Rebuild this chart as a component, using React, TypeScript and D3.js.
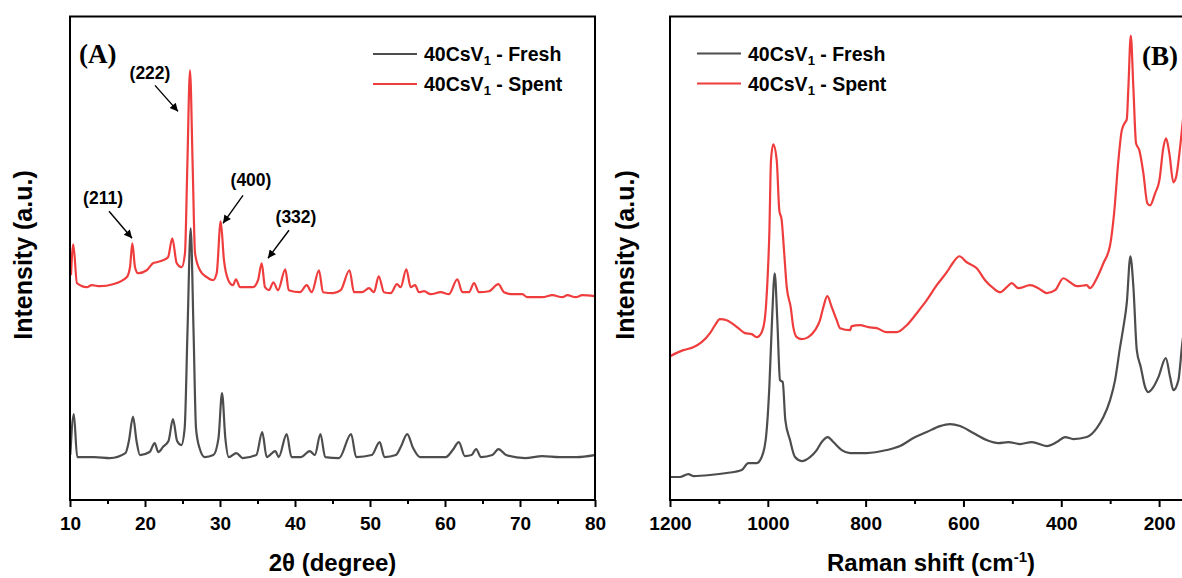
import React, { useEffect, useRef } from "react";
import * as d3 from "d3";

// XRD patterns: [2θ (degree), intensity (a.u.)]
const xrdFresh: [number, number][] = [
  [10.04, 45], [10.51, 86], [10.96, 43], [13.25, 43], [15.33, 42], [17.39, 47], [17.85, 59],
  [18.4, 83.5], [18.87, 59], [19.33, 45], [20.61, 48], [21.29, 57], [21.76, 48], [22.44, 53.5],
  [23.13, 59], [23.73, 81], [24.28, 59], [24.84, 55], [25.29, 72], [25.67, 170], [26.09, 272],
  [26.47, 170], [26.8, 72], [27.27, 52], [27.96, 43], [29.11, 45], [29.8, 62], [30.27, 107],
  [30.71, 62], [31.17, 43], [32.19, 47], [33.01, 42], [34.84, 45], [35.63, 68], [36.23, 43],
  [37.37, 49], [37.83, 43], [38.89, 66], [39.53, 43], [40.81, 43], [41.96, 49], [42.65, 45],
  [43.39, 66], [44.03, 43], [45.87, 42], [47.48, 66], [48.16, 43], [50.23, 45], [51.29, 58],
  [51.93, 43], [53.45, 45], [54.13, 53.5], [54.96, 66], [55.75, 52], [56.67, 43], [60.11, 43],
  [61.03, 50], [61.85, 58], [62.64, 44], [63.55, 45], [64.15, 51], [64.8, 43], [66.31, 45],
  [67.13, 51], [68.15, 45], [70.67, 42], [72.97, 44], [75.27, 43], [77.56, 43], [79.95, 45],
];

const xrdSpent: [number, number][] = [
  [10.13, 225], [10.44, 256], [10.93, 217], [12.23, 213], [12.89, 215], [14.0, 214], [15.73, 216],
  [17.56, 223], [18.0, 233], [18.31, 257], [18.67, 233], [19.07, 227], [20.23, 230], [21.07, 237],
  [21.56, 238], [22.4, 240], [23.07, 243], [23.64, 262], [24.23, 237], [24.89, 233], [25.33, 247],
  [25.64, 333], [26.0, 430], [26.36, 333], [26.67, 247], [27.33, 230], [28.23, 223], [29.07, 220],
  [29.56, 227], [30.09, 279], [30.53, 240], [31.11, 220], [31.73, 215], [32.13, 221], [32.67, 213],
  [33.56, 213], [34.4, 213], [35.07, 220], [35.56, 237], [36.0, 213], [36.53, 210], [37.11, 218],
  [37.73, 210], [38.71, 231], [39.16, 210], [40.67, 208], [41.56, 215], [42.23, 208], [43.2, 230],
  [43.73, 208], [45.07, 207], [46.09, 210], [47.27, 230], [47.87, 208], [48.93, 208], [49.87, 212],
  [50.53, 208], [51.16, 224], [51.87, 208], [52.76, 207], [53.6, 216], [54.09, 213], [54.84, 231],
  [55.43, 213], [56.0, 215], [56.53, 208], [57.2, 209], [58.09, 206], [59.43, 208], [60.53, 206],
  [61.64, 221], [62.31, 208], [63.2, 208], [63.87, 217], [64.53, 208], [65.87, 209], [67.11, 216],
  [67.87, 208], [68.97, 206], [70.31, 206], [70.97, 203], [72.97, 203], [74.31, 205], [75.64, 203],
  [76.31, 205], [77.43, 203], [78.31, 205], [79.93, 204],
];

// Raman spectra: [Raman shift (cm-1), intensity (a.u.)]
const ramanFresh: [number, number][] = [
  [1200, 23], [1179.6, 23], [1162.6, 26], [1152.4, 24], [1118.2, 25], [1084, 27], [1053.4, 30],
  [1039.9, 37], [1022.7, 37], [1012.5, 43], [1003.7, 63], [996.9, 113], [991.4, 180], [985.9, 227],
  [980.6, 180], [975.1, 120], [969.5, 118], [964.2, 80], [954.6, 60], [944.4, 43], [930.7, 39],
  [913.7, 43], [900, 50], [889.8, 58], [877.5, 63], [866, 58], [848.9, 50], [831.9, 47],
  [797.8, 47], [756.9, 50], [729.7, 54], [702.5, 62], [675, 68], [647.9, 74], [627.4, 76],
  [606.9, 74], [579.8, 67], [552.4, 60], [528.6, 57], [508.2, 58], [484.3, 56], [460.3, 58],
  [429.7, 54], [409.2, 58], [392.2, 63], [375.3, 61], [347.9, 63], [327.4, 72], [313.9, 83],
  [300.2, 100], [290, 120], [279.8, 153], [273, 173], [266.1, 197], [258.7, 244], [252.5, 213],
  [245.6, 150], [237.4, 133], [228.6, 113], [221.9, 108], [211.7, 113], [201.4, 123], [186.3, 142],
  [177.5, 123], [170.8, 110], [160.5, 120], [153, 155], [140.7, 200],
];

const ramanSpent: [number, number][] = [
  [1200, 144], [1172.8, 150], [1152.4, 153], [1135.2, 158], [1118.2, 167], [1108, 175],
  [1097.8, 181], [1084, 180], [1073.8, 177], [1060.3, 172], [1046.6, 167], [1032.9, 166],
  [1022.7, 163], [1012.5, 168], [1005.7, 183], [1001, 217], [996.9, 267], [993.5, 340],
  [988.8, 356], [981.8, 340], [976.5, 290], [971.6, 280], [966.9, 250], [961.3, 213], [953.2, 193],
  [947.9, 173], [940.9, 163], [930.7, 161], [917.2, 163], [903.5, 170], [893.3, 180], [886.5, 193],
  [878.3, 204], [869.3, 193], [859.1, 180], [852.4, 172], [831.9, 170], [828.4, 174], [811.5, 175],
  [794.5, 173], [777.3, 172], [756.9, 168], [736.4, 168], [715.9, 175], [695.5, 187], [675, 200],
  [654.6, 215], [634.1, 228], [620.6, 238], [608.4, 244], [593.3, 238], [572.8, 232], [555.8, 220],
  [538.9, 212], [525.2, 208], [511.5, 213], [501.2, 217], [487.7, 212], [463.8, 215], [446.8, 212],
  [429.7, 207], [412.7, 210], [395.7, 222], [382, 218], [368.3, 214], [347.9, 215], [341.1, 212],
  [327.4, 222], [313.9, 237], [300.2, 255], [292, 287], [283.2, 340], [276.3, 370], [269.5, 378],
  [266.1, 381], [262.8, 413], [257.9, 465], [252.6, 413], [247.1, 357], [240.3, 350], [232.1, 327],
  [224, 297], [218.4, 295], [208.2, 307], [199.4, 320], [191.2, 353], [185.7, 362], [179, 347],
  [170.8, 318], [165.3, 323], [157.1, 353], [149, 390], [136.6, 420],
];

const xrdMajor = [10, 20, 30, 40, 50, 60, 70, 80];
const xrdMinor = [15, 25, 35, 45, 55, 65, 75];
const ramanMajor = [1200, 1000, 800, 600, 400, 200];
const ramanMinor = [1100, 900, 700, 500, 300, 100];

// Miller indices pointed at on the spent XRD pattern: label, arrow-tip 2θ, arrow-tip intensity
const hklLabels = ["(211)", "(222)", "(400)", "(332)"];
const hklTheta = [18.27, 24.4, 30.4, 36.4];
const hklTip = [262, 389, 277, 242];

const FONT = "'Liberation Sans', Arial, sans-serif";
const SERIF = "'Liberation Serif', 'Times New Roman', serif";
const RED = "#ef3d3d";
const GREY = "#4d4d4d";

const W = 1182;
const H = 578;

export default function App() {
  const ref = useRef<SVGSVGElement>(null);

  useEffect(() => {
    const svg = d3.select(ref.current);
    svg.selectAll("*").remove();

    const defs = svg.append("defs");
    defs
      .append("marker")
      .attr("id", "arrowhead")
      .attr("viewBox", "0 0 10 10")
      .attr("refX", 10)
      .attr("refY", 5)
      .attr("markerWidth", 11)
      .attr("markerHeight", 8)
      .attr("markerUnits", "userSpaceOnUse")
      .attr("orient", "auto")
      .append("path")
      .attr("d", "M0,0L10,5L0,10Z")
      .attr("fill", "#000");

    const top = 16.5;
    const bottom = 500;

    const panel = (
      id: string,
      x: d3.ScaleLinear<number, number>,
      y: d3.ScaleLinear<number, number>,
      major: number[],
      minor: number[],
      series: { data: [number, number][]; color: string }[]
    ) => {
      const [x0, x1] = x.range();
      const g = svg.append("g");

      defs
        .append("clipPath")
        .attr("id", id)
        .append("rect")
        .attr("x", x0)
        .attr("y", top)
        .attr("width", x1 - x0)
        .attr("height", bottom - top);

      const line = d3
        .line<[number, number]>()
        .x((d) => x(d[0]))
        .y((d) => y(d[1]))
        .curve(d3.curveMonotoneX);

      series.forEach((s) => {
        g.append("path")
          .attr("clip-path", `url(#${id})`)
          .attr("fill", "none")
          .attr("stroke", s.color)
          .attr("stroke-width", 2.2)
          .attr("stroke-linejoin", "round")
          .attr("d", line(s.data));
      });

      g.append("rect")
        .attr("x", x0)
        .attr("y", top)
        .attr("width", x1 - x0)
        .attr("height", bottom - top)
        .attr("fill", "none")
        .attr("stroke", "#000")
        .attr("stroke-width", 2);

      const gx = g
        .append("g")
        .attr("transform", `translate(0,${bottom})`)
        .call(
          d3
            .axisBottom(x)
            .tickValues(major)
            .tickSize(7)
            .tickPadding(10)
            .tickFormat(d3.format("d"))
        );
      gx.select(".domain").remove();
      gx.attr("font-family", FONT).attr("font-size", 19).attr("font-weight", "bold");
      gx.selectAll("line").attr("stroke-width", 2);

      const gm = g
        .append("g")
        .attr("transform", `translate(0,${bottom})`)
        .call(d3.axisBottom(x).tickValues(minor).tickSize(4).tickFormat(() => ""));
      gm.select(".domain").remove();
      gm.selectAll("line").attr("stroke-width", 2);
      return g;
    };

    // (A) XRD
    const xA = d3.scaleLinear().domain([10, 80]).range([70, 595]);
    const yA = d3.scaleLinear().domain([0, 484]).range([bottom, top]);
    const gA = panel("clipA", xA, yA, xrdMajor, xrdMinor, [
      { data: xrdFresh, color: GREY },
      { data: xrdSpent, color: RED },
    ]);

    // (B) Raman, reversed axis running past the right edge of the picture
    const xB = d3.scaleLinear().domain([1200, 100]).range([670, 1208]);
    const yB = d3.scaleLinear().domain([0, 484]).range([bottom, top]);
    const gB = panel("clipB", xB, yB, ramanMajor, ramanMinor, [
      { data: ramanFresh, color: GREY },
      { data: ramanSpent, color: RED },
    ]);

    // peak annotations
    const textOffsets = [
      [-29, -40],
      [-28, -39],
      [28, -43],
      [28, -41],
    ];
    const tailOffsets = [
      [-23, -27],
      [-23, -26],
      [20, -28],
      [21, -28],
    ];
    hklLabels.forEach((lab, i) => {
      const tx = xA(hklTheta[i]);
      const ty = yA(hklTip[i]);
      gA.append("line")
        .attr("x1", tx + tailOffsets[i][0])
        .attr("y1", ty + tailOffsets[i][1])
        .attr("x2", tx)
        .attr("y2", ty)
        .attr("stroke", "#000")
        .attr("stroke-width", 1.4)
        .attr("marker-end", "url(#arrowhead)");
      gA.append("text")
        .attr("x", tx + textOffsets[i][0])
        .attr("y", ty + textOffsets[i][1])
        .attr("dy", "0.35em")
        .attr("text-anchor", "middle")
        .attr("font-family", FONT)
        .attr("font-weight", "bold")
        .attr("font-size", 17.5)
        .text(lab);
    });

    const legend = (g: any, lx: number, ly: number) => {
      const rows = [
        { name: "Fresh", color: GREY },
        { name: "Spent", color: RED },
      ];
      rows.forEach((r, i) => {
        const yy = ly + i * 30;
        g.append("line")
          .attr("x1", lx)
          .attr("x2", lx + 44)
          .attr("y1", yy)
          .attr("y2", yy)
          .attr("stroke", r.color)
          .attr("stroke-width", 2);
        const t = g
          .append("text")
          .attr("x", lx + 51)
          .attr("y", yy + 7)
          .attr("font-family", FONT)
          .attr("font-weight", "bold")
          .attr("font-size", 19.5)
          .style("white-space", "pre");
        t.append("tspan").text("40CsV");
        t.append("tspan").attr("font-size", 13).attr("dy", 4).text("1");
        t.append("tspan").attr("dy", -4).text(" - " + r.name);
      });
    };
    legend(gA, 373, 54);
    legend(gB, 697, 53.5);

    svg.append("text")
      .attr("x", 79)
      .attr("y", 63)
      .attr("font-family", SERIF)
      .attr("font-weight", "bold")
      .attr("font-size", 27)
      .text("(A)");
    svg.append("text")
      .attr("x", 1142)
      .attr("y", 65)
      .attr("font-family", SERIF)
      .attr("font-weight", "bold")
      .attr("font-size", 27)
      .text("(B)");

    // axis titles
    const title = (x: number, y: number, rotate: boolean, size: number) =>
      svg
        .append("text")
        .attr("transform", rotate ? `translate(${x},${y}) rotate(-90)` : `translate(${x},${y})`)
        .attr("text-anchor", "middle")
        .attr("font-family", FONT)
        .attr("font-weight", "bold")
        .attr("font-size", size);

    title(32, 255, true, 25).text("Intensity (a.u.)");
    title(634, 255, true, 25).text("Intensity (a.u.)");
    title(332.5, 571, false, 24).text("2θ (degree)");
    const rt = title(931, 571, false, 24);
    rt.append("tspan").text("Raman shift (cm");
    rt.append("tspan").attr("font-size", 15).attr("dy", -9).text("-1");
    rt.append("tspan").attr("dy", 9).text(")");
  }, []);

  return (
    <div style={{ position: "absolute", left: 0, top: 0 }}>
      <svg ref={ref} width={W} height={H} style={{ display: "block", background: "#fff" }} />
    </div>
  );
}
